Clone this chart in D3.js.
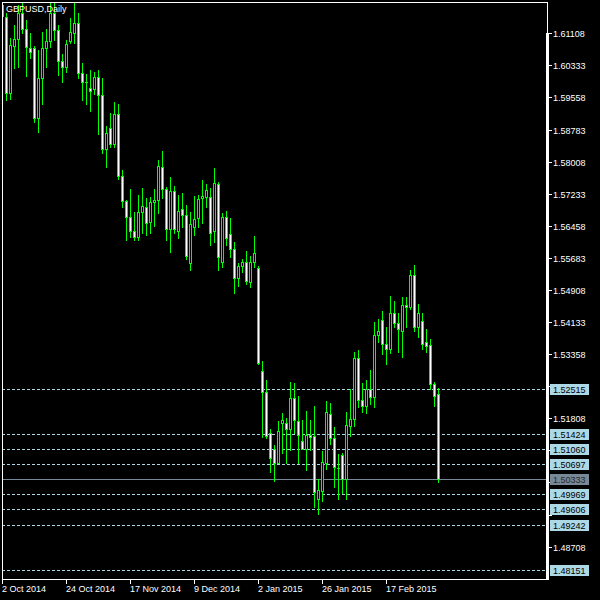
<!DOCTYPE html>
<html><head><meta charset="utf-8">
<script src="https://cdn.jsdelivr.net/npm/d3@7/dist/d3.min.js"></script>
<style>html,body{margin:0;padding:0;background:#000;}svg{display:block;}</style>
</head><body><svg id="c" width="600" height="600"></svg>
<script>
const title = "GBPUSD,Daily";
const dates = [
"2014-10-02","2014-10-03","2014-10-06","2014-10-07","2014-10-08","2014-10-09","2014-10-10","2014-10-13","2014-10-14","2014-10-15",
"2014-10-16","2014-10-17","2014-10-20","2014-10-21","2014-10-22","2014-10-23","2014-10-24","2014-10-27","2014-10-28","2014-10-29",
"2014-10-30","2014-10-31","2014-11-03","2014-11-04","2014-11-05","2014-11-06","2014-11-07","2014-11-10","2014-11-11","2014-11-12",
"2014-11-13","2014-11-14","2014-11-17","2014-11-18","2014-11-19","2014-11-20","2014-11-21","2014-11-24","2014-11-25","2014-11-26",
"2014-11-27","2014-11-28","2014-12-01","2014-12-02","2014-12-03","2014-12-04","2014-12-05","2014-12-08","2014-12-09","2014-12-10",
"2014-12-11","2014-12-12","2014-12-15","2014-12-16","2014-12-17","2014-12-18","2014-12-19","2014-12-22","2014-12-23","2014-12-24",
"2014-12-26","2014-12-29","2014-12-30","2014-12-31","2015-01-02","2015-01-05","2015-01-06","2015-01-07","2015-01-08","2015-01-09",
"2015-01-12","2015-01-13","2015-01-14","2015-01-15","2015-01-16","2015-01-19","2015-01-20","2015-01-21","2015-01-22","2015-01-23",
"2015-01-26","2015-01-27","2015-01-28","2015-01-29","2015-01-30","2015-02-02","2015-02-03","2015-02-04","2015-02-05","2015-02-06",
"2015-02-09","2015-02-10","2015-02-11","2015-02-12","2015-02-13","2015-02-16","2015-02-17","2015-02-18","2015-02-19","2015-02-20",
"2015-02-23","2015-02-24","2015-02-25","2015-02-26","2015-02-27","2015-03-02","2015-03-03","2015-03-04","2015-03-05","2015-03-06"];
const open = [
1.61800,1.61501,1.59666,1.60801,1.60970,1.61598,1.61212,1.60753,1.60753,1.59062,
1.60028,1.60753,1.60922,1.61598,1.61187,1.60439,1.60294,1.60922,1.61115,1.61356,
1.60149,1.59931,1.59786,1.59762,1.60052,1.59617,1.58313,1.58820,1.58434,1.59158,
1.57661,1.57056,1.56670,1.56332,1.56187,1.56791,1.56911,1.56550,1.57032,1.57081,
1.57878,1.57347,1.56381,1.57298,1.56332,1.56863,1.56719,1.55560,1.56429,1.56646,
1.57129,1.57153,1.57153,1.56332,1.57468,1.55584,1.56670,1.56260,1.55898,1.55198,
1.55487,1.55584,1.55100,1.55584,1.55439,1.52950,1.52444,1.51453,1.51067,1.50728,
1.51694,1.51694,1.51550,1.52299,1.51743,1.51260,1.51067,1.51405,1.51380,1.49859,
1.50052,1.50728,1.51912,1.51332,1.50608,1.50922,1.50342,1.51622,1.51791,1.53265,
1.52250,1.52105,1.52516,1.52323,1.53820,1.54182,1.53603,1.53482,1.54351,1.54110,
1.53917,1.54545,1.54496,1.55270,1.54013,1.54158,1.53651,1.53579,1.52637,1.52395];
const high = [
1.62000,1.61598,1.60994,1.61308,1.61791,1.61840,1.61429,1.61115,1.60801,1.60704,
1.61139,1.61212,1.61840,1.61840,1.61308,1.60608,1.60946,1.61477,1.61840,1.61598,
1.60390,1.60125,1.60221,1.60173,1.60221,1.60028,1.58869,1.59183,1.59448,1.59400,
1.57806,1.57081,1.57347,1.56791,1.57202,1.57371,1.57129,1.57153,1.57347,1.58047,
1.58265,1.57395,1.57637,1.57419,1.57202,1.57250,1.56960,1.56791,1.57178,1.57202,
1.57564,1.57468,1.57371,1.57854,1.57516,1.56767,1.56815,1.56646,1.56067,1.55560,
1.55656,1.55849,1.55729,1.56211,1.55487,1.53192,1.52733,1.51550,1.51163,1.51743,
1.51936,1.51815,1.52685,1.52661,1.52347,1.51767,1.51985,1.51767,1.52105,1.50342,
1.51018,1.52226,1.52178,1.51598,1.50946,1.50970,1.51960,1.52516,1.53410,1.53458,
1.52661,1.52733,1.52975,1.54134,1.54207,1.54400,1.54013,1.54762,1.54641,1.54351,
1.54738,1.54738,1.55391,1.55511,1.54569,1.54351,1.53965,1.53724,1.52685,1.52540];
const low = [
1.61500,1.59497,1.59521,1.60269,1.60294,1.61115,1.60076,1.60511,1.58965,1.58724,
1.59400,1.60294,1.60777,1.60946,1.60100,1.59931,1.60173,1.60873,1.60873,1.60028,
1.59497,1.59400,1.59231,1.59641,1.58675,1.58216,1.57878,1.58361,1.58361,1.57588,
1.56911,1.56115,1.56187,1.56115,1.56115,1.56284,1.56236,1.56284,1.56453,1.56767,
1.57129,1.56115,1.55825,1.56284,1.56163,1.56429,1.55656,1.55391,1.56236,1.56429,
1.56526,1.56911,1.55994,1.56067,1.55391,1.55463,1.55994,1.55704,1.54835,1.55004,
1.55342,1.55052,1.54979,1.55463,1.53130,1.51356,1.51332,1.50511,1.50294,1.50720,
1.50970,1.50728,1.51042,1.51453,1.50728,1.51060,1.50559,1.51042,1.49667,1.49497,
1.49811,1.50584,1.51187,1.50149,1.49859,1.50004,1.49859,1.51380,1.51622,1.52081,
1.51960,1.51936,1.52154,1.52081,1.53651,1.53361,1.53120,1.53385,1.54013,1.53410,
1.53289,1.54013,1.54448,1.53917,1.53772,1.53482,1.53410,1.52516,1.52105,1.50270];
const close = [
1.61520,1.59666,1.60825,1.60970,1.61598,1.61212,1.60777,1.60656,1.59062,1.60028,
1.60753,1.60922,1.61598,1.61187,1.60439,1.60294,1.60849,1.61139,1.61356,1.60149,
1.59931,1.59920,1.59714,1.60052,1.59617,1.58313,1.58699,1.58434,1.59158,1.57661,
1.57056,1.56670,1.56332,1.56187,1.56791,1.56936,1.56526,1.57032,1.57081,1.57902,
1.57347,1.56381,1.57298,1.56381,1.56815,1.56719,1.55729,1.56501,1.56622,1.57105,
1.57178,1.57323,1.56284,1.57492,1.55704,1.56670,1.56163,1.55898,1.55198,1.55487,
1.55584,1.55124,1.55584,1.55801,1.53150,1.52444,1.51380,1.50849,1.50728,1.51501,
1.51767,1.51550,1.52299,1.51767,1.51405,1.51067,1.51405,1.51356,1.50028,1.50076,
1.50752,1.51960,1.51332,1.50632,1.50600,1.50342,1.51646,1.51791,1.53265,1.52250,
1.52105,1.52516,1.52323,1.53820,1.53917,1.53603,1.53482,1.54351,1.54110,1.53965,
1.54545,1.54496,1.55270,1.54013,1.54351,1.53603,1.53555,1.52637,1.52347,1.50333];
const priceTicks = [1.61108,1.60333,1.59558,1.58783,1.58008,1.57233,1.56458,1.55683,1.54908,1.54133,1.53358,1.52583,1.51808,1.51033,1.50258,1.49483,1.48708];
const levels = [1.52515,1.51424,1.51060,1.50697,1.49969,1.49606,1.49242,1.48151];
const lastPrice = 1.50333;
const xTickDates = ["2014-10-02","2014-10-24","2014-11-17","2014-12-09","2015-01-02","2015-01-26","2015-02-17"];
const xTickLabels = ["2 Oct 2014","24 Oct 2014","17 Nov 2014","9 Dec 2014","2 Jan 2015","26 Jan 2015","17 Feb 2015"];

const svg = d3.select("#c");
const FONT = "Liberation Sans, Arial, sans-serif";
const L = 2, T = 2, R = 547, B = 579;
const x = d3.scalePoint().domain(dates).range([2, 438]);
const y = d3.scaleLinear().domain([1.47926, 1.61864]).range([B, T]);
const Y = v => Math.round(y(v));

svg.append("rect").attr("width",600).attr("height",600).attr("fill","#000");
svg.append("defs").append("clipPath").attr("id","plot")
  .append("rect").attr("x",L+1).attr("y",T+1).attr("width",R-L-1).attr("height",B-T-1);

const plot = svg.append("g").attr("clip-path","url(#plot)");

// level lines
plot.selectAll(".lvl").data(levels).enter().append("line")
  .attr("x1",L).attr("x2",R).attr("y1",d=>Y(d)+0.5).attr("y2",d=>Y(d)+0.5)
  .attr("stroke","#add8e6").attr("stroke-width",1).attr("stroke-dasharray","3,2");
plot.append("line").attr("x1",L).attr("x2",R).attr("y1",Y(lastPrice)+0.5).attr("y2",Y(lastPrice)+0.5)
  .attr("stroke","#778899").attr("stroke-width",1);

const idx = d3.range(dates.length);
const cg = plot.append("g");
idx.forEach(i => {
  const cx = Math.round(x(dates[i]));
  const o = open[i], h = high[i], l = low[i], c = close[i];
  const yh = Y(h), yl = Y(l);
  cg.append("rect").attr("x",cx).attr("y",yh).attr("width",1).attr("height",Math.max(1,yl-yh+1)).attr("fill","#00ff00");
  const top = Y(Math.max(o,c)), bot = Y(Math.min(o,c));
  cg.append("rect").attr("x",cx-1).attr("y",top).attr("width",3).attr("height",Math.max(1,bot-top+1)).attr("fill","#00ff00");
  if (bot-top >= 2) {
    cg.append("rect").attr("x",cx).attr("y",top+1).attr("width",1).attr("height",bot-top-1)
      .attr("fill", c < o ? "#ffffff" : "#000000");
  }
});

// frame
const fr = svg.append("g").attr("fill","#fff");
fr.append("rect").attr("x",L).attr("y",T).attr("width",R-L+1).attr("height",1);
fr.append("rect").attr("x",L).attr("y",B).attr("width",R-L+1).attr("height",1);
fr.append("rect").attr("x",L).attr("y",T).attr("width",1).attr("height",B-T+1);
fr.append("rect").attr("x",R).attr("y",T).attr("width",1).attr("height",B-T+1);
fr.append("rect").attr("x",R-1).attr("y",Y(priceTicks[0])).attr("width",3).attr("height",B-Y(priceTicks[0])+1);

// y axis (labels hidden where a level label covers them, as in the reference)
const covered = levels.concat([lastPrice]);
const ya = svg.append("g");
priceTicks.forEach(v => {
  const yy = Y(v);
  ya.append("rect").attr("x",R+2).attr("y",yy).attr("width",3).attr("height",1).attr("fill","#fff");
  if (covered.some(c => Math.abs(Y(c) - yy) < 10)) return;
  ya.append("text").attr("x",R+6).attr("y",yy+3.5).attr("fill","#fff")
    .attr("font-family",FONT).attr("font-size","9px").text(v.toFixed(5));
});

// x axis
const xa = svg.append("g");
xTickDates.forEach((d,k) => {
  const xx = Math.round(x(d));
  xa.append("rect").attr("x",xx).attr("y",B).attr("width",1).attr("height",5).attr("fill","#fff");
  xa.append("text").attr("x",xx).attr("y",592).attr("fill","#fff")
    .attr("font-family",FONT).attr("font-size","9px").text(xTickLabels[k]);
});

// level labels
const lg = svg.append("g");
levels.forEach(v => {
  const yy = Y(v);
  lg.append("rect").attr("x",R+3).attr("y",yy-5).attr("width",39).attr("height",11).attr("fill","#add8e6");
  lg.append("text").attr("x",R+6).attr("y",yy+3.5).attr("fill","#000")
    .attr("font-family",FONT).attr("font-size","9px").text(v.toFixed(5));
});
{
  const yy = Y(lastPrice);
  lg.append("rect").attr("x",R+3).attr("y",yy-5).attr("width",39).attr("height",11).attr("fill","#778899");
  lg.append("text").attr("x",R+6).attr("y",yy+3.5).attr("fill","#2a2a2a")
    .attr("font-family",FONT).attr("font-size","9px").text(lastPrice.toFixed(5));
}

// title
svg.append("text").attr("x",6).attr("y",12).attr("fill","#fff")
  .attr("font-family",FONT).attr("font-size","9px").text(title);
</script></body></html>
